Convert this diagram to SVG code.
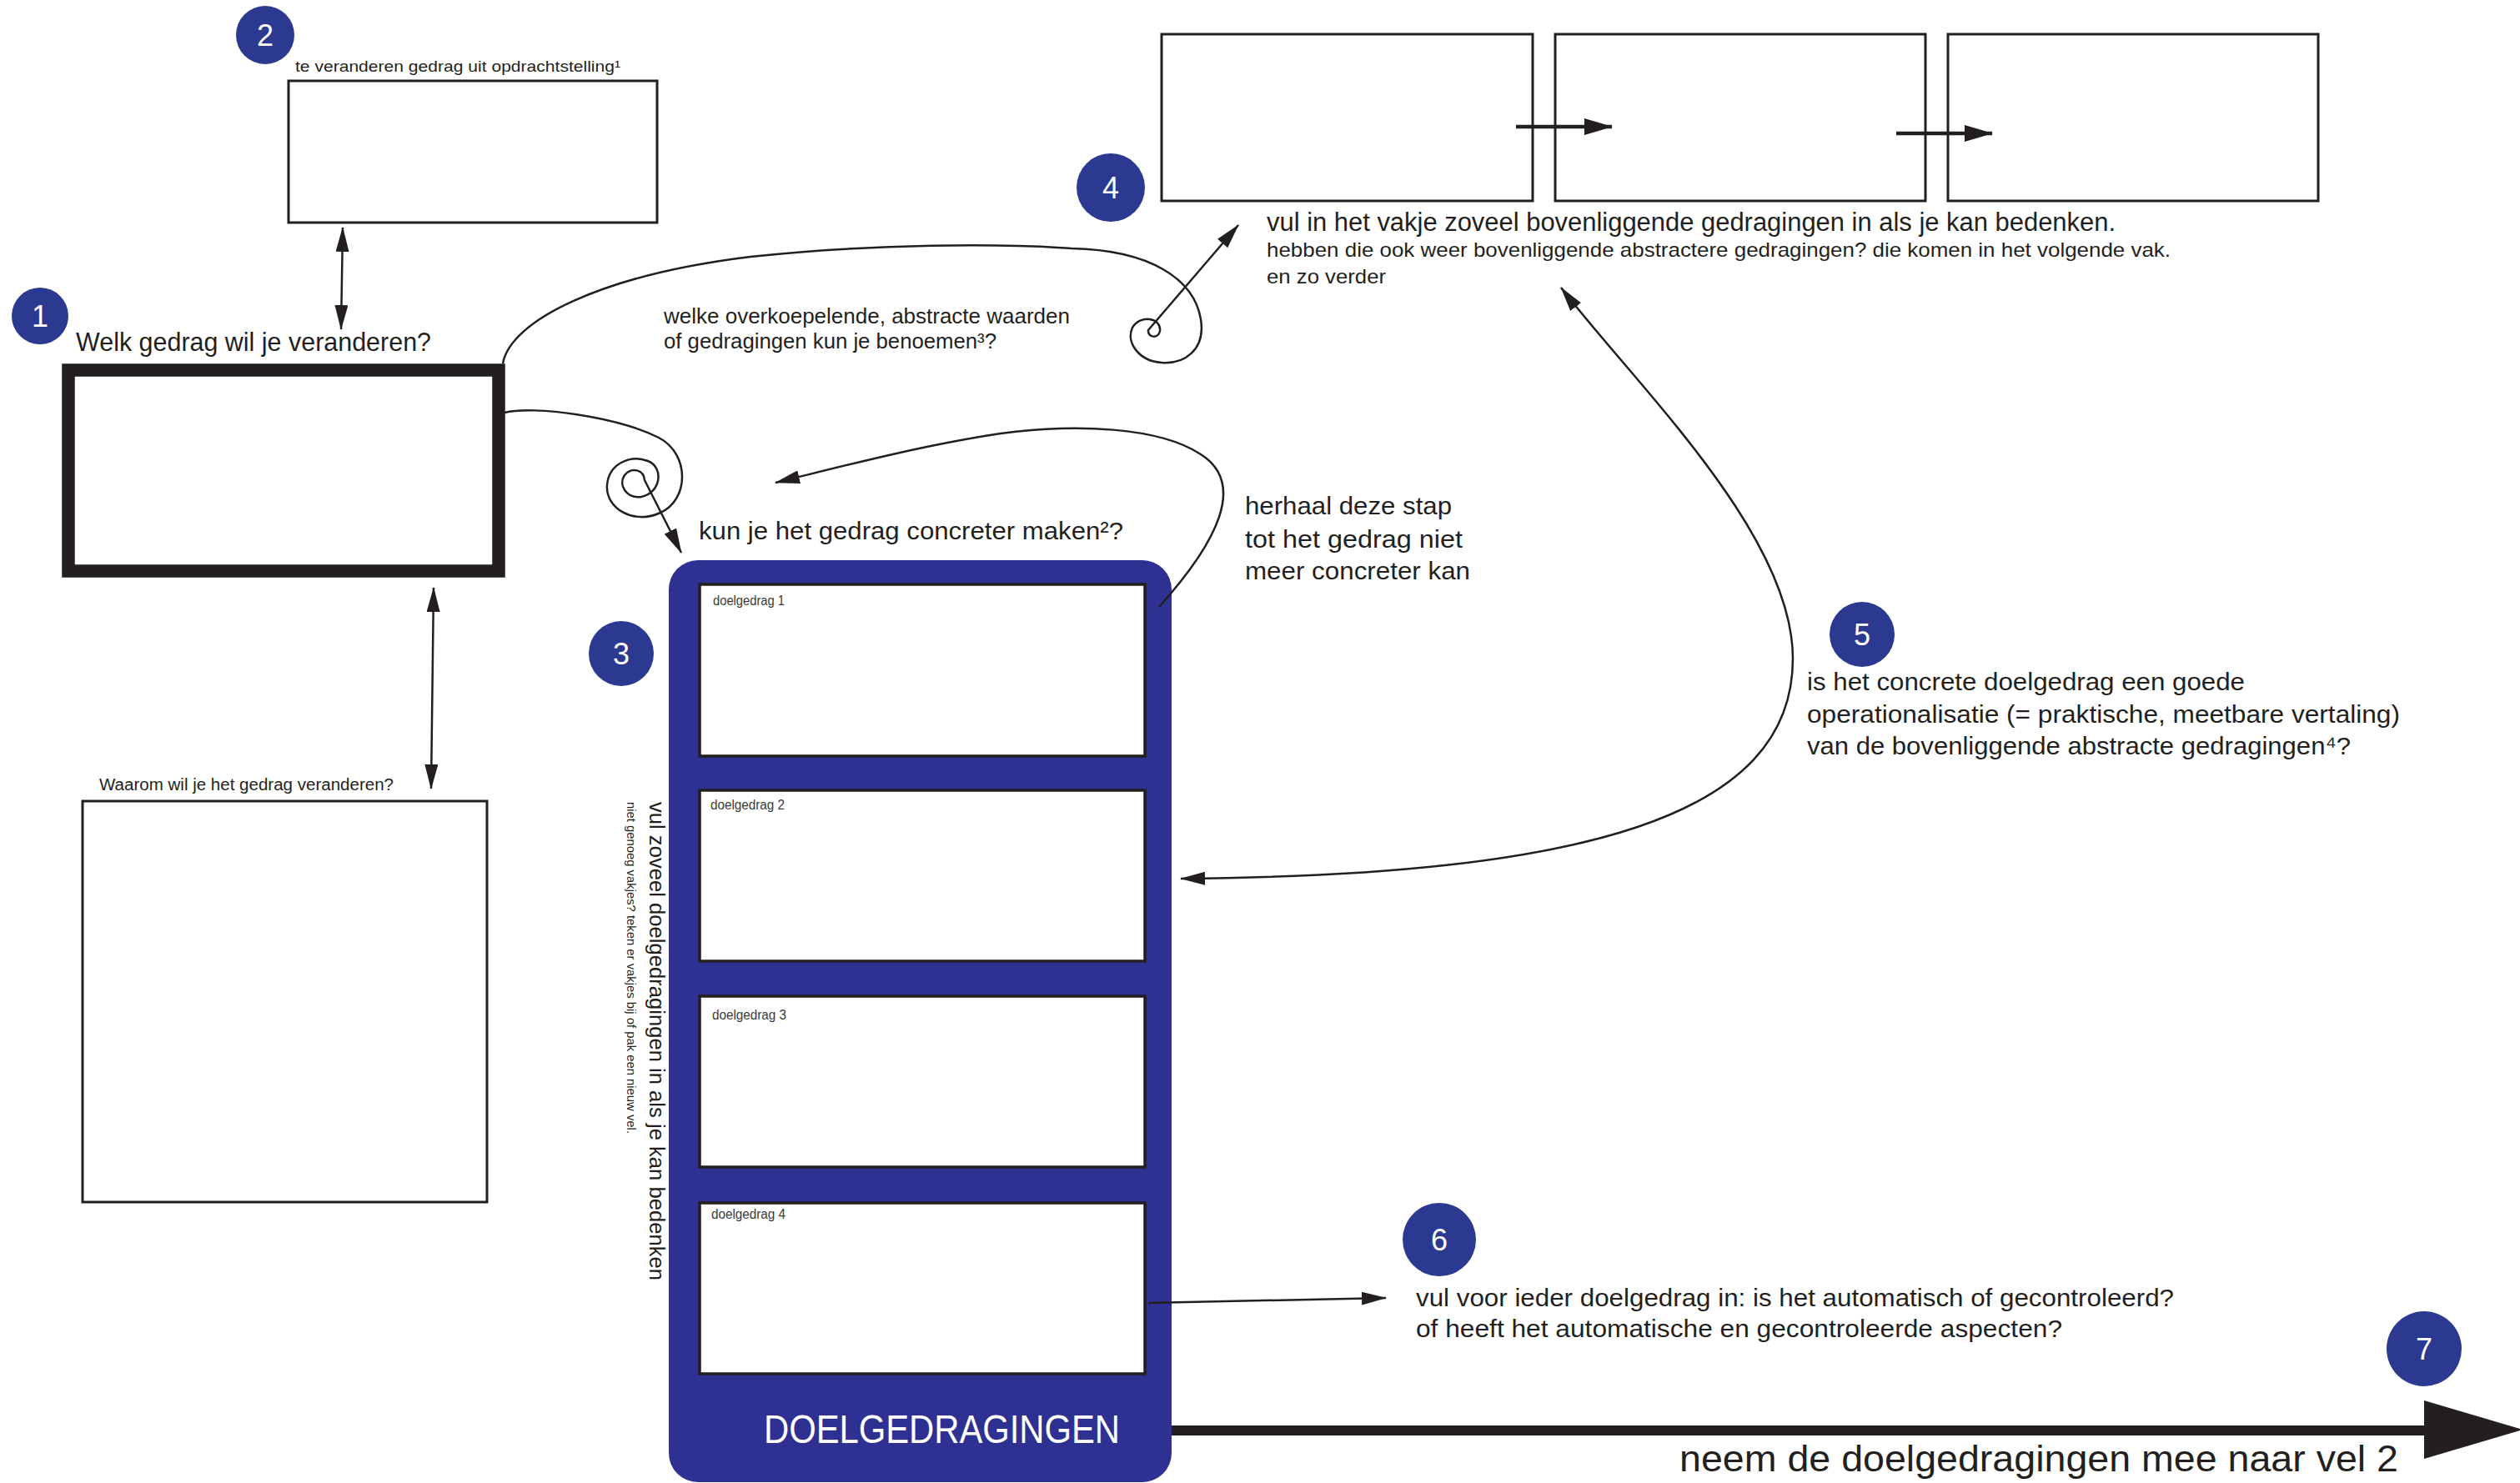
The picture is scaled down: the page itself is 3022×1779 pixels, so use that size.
<svg xmlns="http://www.w3.org/2000/svg" width="3022" height="1779" viewBox="0 0 3022 1779">
<defs>
<style>
.t{font-family:"Liberation Sans",Arial,sans-serif;fill:#231f20}
.box{fill:#fff;stroke:#231f20;stroke-width:3}
.ib{fill:#fff;stroke:#231f20;stroke-width:3.5}
.badge circle{fill:#2b3990}
.badge text{font-family:"Liberation Sans",Arial,sans-serif;fill:#fff;font-size:36px;text-anchor:middle}
.ln{fill:none;stroke:#231f20;stroke-width:2.5}
.lnb{fill:none;stroke:#231f20;stroke-width:4.5}
.lbl{font-family:"Liberation Sans",Arial,sans-serif;fill:#3a3a3a;font-size:16px}
</style>
<marker id="ah" viewBox="0 0 30 16" refX="29" refY="8" markerWidth="30" markerHeight="16" markerUnits="userSpaceOnUse" orient="auto-start-reverse"><path d="M0,0 L30,8 L0,16 z" fill="#231f20"/></marker>
<marker id="ahb" viewBox="0 0 34 20" refX="33" refY="10" markerWidth="34" markerHeight="20" markerUnits="userSpaceOnUse" orient="auto"><path d="M0,0 L34,10 L0,20 z" fill="#231f20"/></marker>
</defs>
<rect width="3022" height="1779" fill="#fff"/>

<g id="node-1">
<rect x="82" y="444" width="516" height="241" fill="#fff" stroke="#231f20" stroke-width="15.5"/>
<text class="t" x="91" y="421" font-size="32" textLength="426" lengthAdjust="spacingAndGlyphs">Welk gedrag wil je veranderen?</text>
<g class="badge"><circle cx="48" cy="379" r="34"/><text x="48" y="392">1</text></g>
</g>

<g id="node-2">
<rect class="box" x="346" y="97" width="442" height="170"/>
<text class="t" x="354" y="86" font-size="19" textLength="390" lengthAdjust="spacingAndGlyphs">te veranderen gedrag uit opdrachtstelling¹</text>
<g class="badge"><circle cx="318" cy="42" r="35"/><text x="318" y="55">2</text></g>
</g>

<g id="node-waarom">
<rect class="box" x="99" y="961" width="485" height="481"/>
<text class="t" x="119" y="948" font-size="20" textLength="353" lengthAdjust="spacingAndGlyphs">Waarom wil je het gedrag veranderen?</text>
</g>

<g id="node-abstract-label">
<text class="t" x="796" y="388" font-size="25" textLength="487" lengthAdjust="spacingAndGlyphs">welke overkoepelende, abstracte waarden</text>
<text class="t" x="796" y="418" font-size="25" textLength="399" lengthAdjust="spacingAndGlyphs">of gedragingen kun je benoemen³?</text>
</g>

<g id="node-4">
<rect class="box" x="1393" y="41" width="445" height="200"/>
<rect class="box" x="1865" y="41" width="444" height="200"/>
<rect class="box" x="2336" y="41" width="444" height="200"/>
<g class="badge"><circle cx="1332" cy="225" r="41"/><text x="1332" y="238">4</text></g>
<text class="t" x="1519" y="277" font-size="31" textLength="1018" lengthAdjust="spacingAndGlyphs">vul in het vakje zoveel bovenliggende gedragingen in als je kan bedenken.</text>
<text class="t" x="1519" y="308" font-size="24" textLength="1084" lengthAdjust="spacingAndGlyphs">hebben die ook weer bovenliggende abstractere gedragingen? die komen in het volgende vak.</text>
<text class="t" x="1519" y="340" font-size="24" textLength="143" lengthAdjust="spacingAndGlyphs">en zo verder</text>
</g>

<g id="node-3">
<rect x="802" y="672" width="603" height="1106" rx="35" ry="35" fill="#2e3192"/>
<rect class="ib" x="839" y="701" width="534" height="206"/>
<rect class="ib" x="839" y="948" width="534" height="205"/>
<rect class="ib" x="839" y="1195" width="534" height="205"/>
<rect class="ib" x="839" y="1443" width="534" height="205"/>
<text class="lbl" x="855" y="726" textLength="86" lengthAdjust="spacingAndGlyphs">doelgedrag 1</text>
<text class="lbl" x="852" y="971" textLength="89" lengthAdjust="spacingAndGlyphs">doelgedrag 2</text>
<text class="lbl" x="854" y="1223" textLength="89" lengthAdjust="spacingAndGlyphs">doelgedrag 3</text>
<text class="lbl" x="853" y="1462" textLength="89" lengthAdjust="spacingAndGlyphs">doelgedrag 4</text>
<text x="916" y="1731" font-family="Liberation Sans, Arial, sans-serif" font-size="48" fill="#fff" textLength="427" lengthAdjust="spacingAndGlyphs">DOELGEDRAGINGEN</text>
<g class="badge"><circle cx="745" cy="784" r="39"/><text x="745" y="797">3</text></g>
<text class="t" x="838" y="647" font-size="30" textLength="509" lengthAdjust="spacingAndGlyphs">kun je het gedrag concreter maken²?</text>
<text class="t" font-size="26" transform="rotate(90 779 962)" x="779" y="962" textLength="574" lengthAdjust="spacingAndGlyphs">vul zoveel doelgedragingen in als je kan bedenken</text>
<text class="t" font-size="14" transform="rotate(90 752 962)" x="752" y="962" textLength="398" lengthAdjust="spacingAndGlyphs">niet genoeg vakjes? teken er vakjes bij of pak een nieuw vel.</text>
</g>

<g id="node-repeat">
<text class="t" x="1493" y="617" font-size="30" textLength="248" lengthAdjust="spacingAndGlyphs">herhaal deze stap</text>
<text class="t" x="1493" y="657" font-size="30" textLength="261" lengthAdjust="spacingAndGlyphs">tot het gedrag niet</text>
<text class="t" x="1493" y="695" font-size="30" textLength="270" lengthAdjust="spacingAndGlyphs">meer concreter kan</text>
</g>

<g id="node-5">
<g class="badge"><circle cx="2233" cy="761" r="39"/><text x="2233" y="774">5</text></g>
<text class="t" x="2167" y="828" font-size="30" textLength="525" lengthAdjust="spacingAndGlyphs">is het concrete doelgedrag een goede</text>
<text class="t" x="2167" y="867" font-size="30" textLength="711" lengthAdjust="spacingAndGlyphs">operationalisatie (= praktische, meetbare vertaling)</text>
<text class="t" x="2167" y="905" font-size="30" textLength="652" lengthAdjust="spacingAndGlyphs">van de bovenliggende abstracte gedragingen⁴?</text>
</g>

<g id="node-6">
<g class="badge"><circle cx="1726" cy="1487" r="44"/><text x="1726" y="1500">6</text></g>
<text class="t" x="1698" y="1567" font-size="30" textLength="909" lengthAdjust="spacingAndGlyphs">vul voor ieder doelgedrag in: is het automatisch of gecontroleerd?</text>
<text class="t" x="1698" y="1604" font-size="30" textLength="775" lengthAdjust="spacingAndGlyphs">of heeft het automatische en gecontroleerde aspecten?</text>
</g>

<g id="node-7">
<g class="badge"><circle cx="2907" cy="1618" r="45"/><text x="2907" y="1631">7</text></g>
<text class="t" x="2014" y="1765" font-size="44" textLength="862" lengthAdjust="spacingAndGlyphs">neem de doelgedragingen mee naar vel 2</text>
</g>

<g id="connectors">
<path class="ln" d="M411,273 L409,395" marker-start="url(#ah)" marker-end="url(#ah)"/>
<path class="ln" d="M520,705 L517,946" marker-start="url(#ah)" marker-end="url(#ah)"/>
<path class="lnb" d="M1818,152 L1933,152" marker-end="url(#ahb)"/>
<path class="lnb" d="M2274,160 L2389,160" marker-end="url(#ahb)"/>
<path class="ln" d="M603,436 C612,385 720,330 900,308 C1050,292 1200,292 1285,298 C1380,300 1432,335 1440,383 C1446,420 1420,437 1393,435 C1365,433 1350,410 1358,393 C1367,377 1393,381 1391,397 C1389,407 1376,405 1377,396 L1485,270" marker-end="url(#ah)"/>
<path class="ln" d="M605,495 C640,486 740,500 790,525 C828,545 826,600 792,615 C760,630 726,610 728,582 C730,556 756,545 777,553 C797,561 792,592 769,596 C751,598 741,582 749,570 C757,560 772,563 773,576 L817,663" marker-end="url(#ah)"/>
<path class="ln" d="M1390,728 C1460,650 1495,580 1440,545 C1390,512 1290,508 1200,520 C1100,535 1000,562 930,579" marker-end="url(#ah)"/>
<path class="ln" d="M1872,345 C1960,460 2150,640 2150,790 C2150,980 1900,1050 1416,1054" marker-start="url(#ah)" marker-end="url(#ah)"/>
<path class="ln" d="M1377,1563 L1662,1557" marker-end="url(#ah)"/>
<path d="M1405,1716 L2910,1716" stroke="#231f20" stroke-width="12" fill="none"/>
<path d="M2907,1680 L3025,1715 L2907,1750 z" fill="#231f20"/>
</g>
</svg>
